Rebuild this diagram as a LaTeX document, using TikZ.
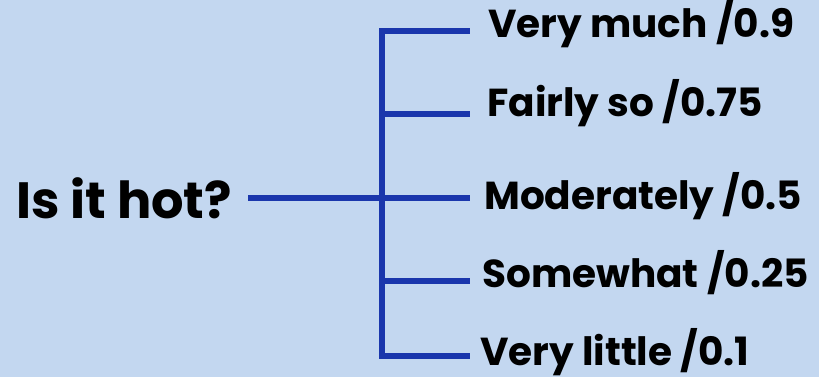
\documentclass[tikz,border=0pt]{standalone}
\usepackage{fontspec}
\setmainfont{Poppins}[BoldFont={* Bold}]
\definecolor{bg}{HTML}{C3D7F0}
\definecolor{ln}{HTML}{1A36AC}
\begin{document}
\begin{tikzpicture}[x=1pt,y=-1pt,
  lbl/.style={anchor=base west,inner sep=0pt,font=\bfseries\fontsize{39}{39}\selectfont,text=black},
  conn/.style={draw=ln,line width=5.5pt}]
\fill[bg] (0,0) rectangle (819,377);
\useasboundingbox (0,0) rectangle (819,377);
\node[anchor=base west,inner sep=0pt,font=\bfseries\fontsize{51}{51}\selectfont] (q) at (16,218) {Is it hot?};
\coordinate (j) at (382,198);
\coordinate (top) at (382,31);
\coordinate (bot) at (382,356);
\node[lbl] (a) at (488,38) {Very much /0.9};
\node[lbl] (b) at (487,117) {Fairly so /0.75};
\node[lbl] (c) at (484,209) {Moderately /0.5};
\node[lbl] (d) at (482,287) {Somewhat /0.25};
\node[lbl] (e) at (480,365) {Very little /0.1};
\draw[conn] (q.east |- j) ++(16,0) -- (j);
\draw[conn] (382,28.25) -- (382,358.75);
\draw[conn] (top) -- (470,31);
\draw[conn] (382,114) -- (470,114);
\draw[conn] (j) -- (470,198);
\draw[conn] (382,281) -- (470,281);
\draw[conn] (bot) -- (470,356);
\end{tikzpicture}
\end{document}
